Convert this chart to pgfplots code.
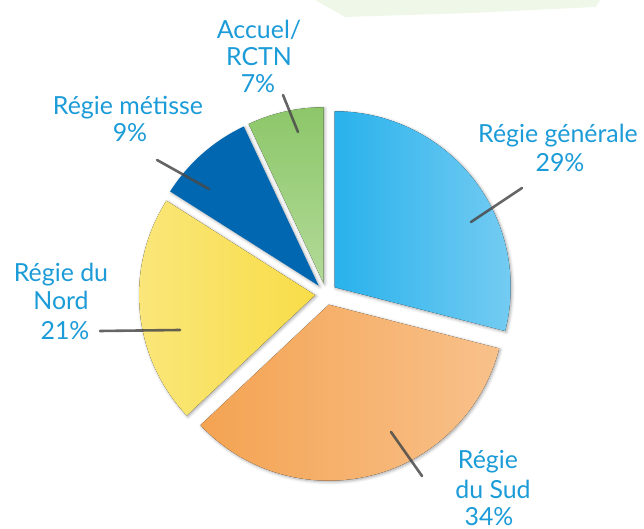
\documentclass[border=0pt]{standalone}
\usepackage{pgfplots}
\pgfplotsset{compat=1.18}
\usepackage{fontspec}
\setmainfont{Lato}
\usetikzlibrary{shadows.blur}

\definecolor{txtblue}{HTML}{1B9BD7}
\definecolor{cgreen}{HTML}{8DC76A}
\definecolor{cgreenl}{HTML}{B2DA98}
\definecolor{cnavy}{HTML}{0067B0}
\definecolor{csky}{HTML}{29B2EC}
\definecolor{cskyl}{HTML}{78CDF2}
\definecolor{cyel}{HTML}{F8DD48}
\definecolor{cyell}{HTML}{FAE77E}
\definecolor{corg}{HTML}{F4A352}
\definecolor{corgl}{HTML}{F8C18B}
\definecolor{leadgray}{HTML}{4A4A4A}

% shares in percent, counter-clockwise from 12 o'clock
\def\vAccueil{7}
\def\vMetisse{9}
\def\vNord{21}
\def\vSud{34}
\def\vGenerale{29}

\pgfmathsetmacro\aA{90}
\pgfmathsetmacro\aB{\aA+3.6*\vAccueil}
\pgfmathsetmacro\aC{\aB+3.6*\vMetisse}
\pgfmathsetmacro\aD{\aC+3.6*\vNord}
\pgfmathsetmacro\aE{\aD+3.6*\vSud}
\pgfmathsetmacro\aF{\aE+3.6*\vGenerale}

\def\cx{326}
\def\cy{235}
\def\rad{176bp}
\def\boom{11}

% one exploded slice: start angle, end angle, fill options
\newcommand\slice[3]{%
  \pgfmathsetmacro\mid{(#1+#2)/2}%
  \pgfmathsetmacro\ox{\cx+\boom*cos(\mid)}%
  \pgfmathsetmacro\oy{\cy+\boom*sin(\mid)}%
  \edef\tmp{\noexpand\fill[blur shadow={shadow xshift=1.2bp,shadow yshift=-1.2bp,shadow blur radius=3bp,shadow opacity=35},#3]
    (axis cs:\ox,\oy) -- ++(#1:\rad) arc[start angle=#1,end angle=#2,radius=\rad] -- cycle;}%
  \tmp}

\tikzset{
  lab/.style={font=\fontsize{25}{29}\selectfont, text=txtblue, anchor=base, inner sep=0pt},
  leader/.style={draw=leadgray, line width=2.6bp, opacity=0.85, line cap=round}
}

\begin{document}
\begin{tikzpicture}
\begin{axis}[
  at={(0,0)}, anchor=south west,
  width=644bp, height=529bp, scale only axis,
  xmin=0, xmax=644, ymin=0, ymax=529,
  hide axis, clip=false
]
% faint wash at the top
\fill[cgreenl, opacity=0.22] (axis cs:315,529) -- (axis cs:600,529) -- (axis cs:596,522)
  -- (axis cs:470,516) -- (axis cs:345,512) -- cycle;

\slice{\aA}{\aB}{top color=cgreen, bottom color=cgreenl}
\slice{\aB}{\aC}{fill=cnavy}
\slice{\aC}{\aD}{left color=cyell, right color=cyel}
\slice{\aD}{\aE}{left color=corg, right color=corgl}
\slice{\aE}{\aF}{left color=csky, right color=cskyl}

% leader lines
\draw[leader] (axis cs:283,434) -- (axis cs:298,397);
\draw[leader] (axis cs:157,369) -- (axis cs:209,340);
\draw[leader] (axis cs:522,341) -- (axis cs:471,307);
\draw[leader] (axis cs:100,198) -- (axis cs:180,199);
\draw[leader] (axis cs:391,97) -- (axis cs:422,53);

% labels
\node[lab] at (axis cs:259,490) {Accuel/};
\node[lab] at (axis cs:259,463) {RCTN};
\node[lab] at (axis cs:258,436) {7\%};

\node[lab] at (axis cs:128,414) {Régie métisse};
\node[lab] at (axis cs:130,387) {9\%};

\node[lab] at (axis cs:558,386) {Régie générale};
\node[lab] at (axis cs:560,357) {29\%};

\node[lab] at (axis cs:61,247) {Régie du};
\node[lab] at (axis cs:61,219) {Nord};
\node[lab] at (axis cs:65,189) {21\%};

\node[lab] at (axis cs:488,60) {Régie};
\node[lab] at (axis cs:493,31) {du Sud};
\node[lab] at (axis cs:489,4) {34\%};
\end{axis}
\pgfresetboundingbox
\useasboundingbox (0,0) rectangle (644bp,529bp);
\end{tikzpicture}
\end{document}
